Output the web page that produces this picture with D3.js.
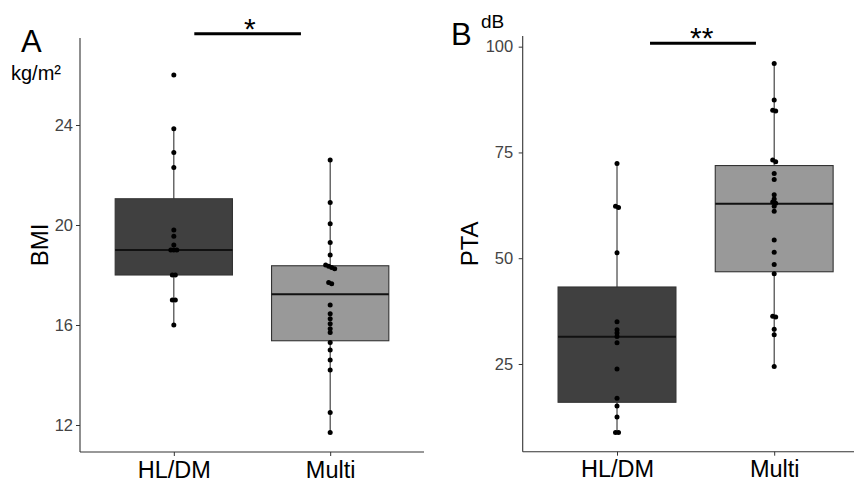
<!DOCTYPE html>
<html>
<head>
<meta charset="utf-8">
<script src="https://cdn.jsdelivr.net/npm/d3@7"></script>
<style>
  body { margin: 0; background: #fff; }
  svg { display: block; font-family: "Liberation Sans", Arial, sans-serif; }
</style>
</head>
<body>
<svg id="chart" width="854" height="482"></svg>
<script>
// groups and tick labels
var groups = ['HL/DM', 'Multi'];
var fills = ['#404040', '#999999'];
var bmiTicks = [12, 16, 20, 24];
var ptaTicks = [25, 50, 75, 100];

var bmiHL = [26.0, 23.85, 22.9, 22.3, 19.8, 19.55, 19.2, 19.0, 19.0, 19.0, 18.0, 18.0, 17.0, 17.0, 16.0];
var bmiMulti = [22.6, 20.9, 20.05, 19.3, 18.8, 18.4, 18.35, 18.3, 18.25, 17.7, 17.65, 16.8, 16.45,
  16.25, 16.05, 15.85, 15.7, 15.3, 15.0, 14.6, 14.2, 12.5, 11.7];
var ptaHL = [72.4, 62.3, 62.0, 51.3, 35.0, 33.1, 32.3, 31.5, 30.0, 23.8, 16.9, 15.1, 12.5, 8.8, 8.8];
var ptaMulti = [96.0, 87.4, 85.0, 84.8, 73.2, 72.8, 70.0, 68.6, 65.0, 64.0, 63.3, 63.0, 62.3, 61.1,
  54.3, 51.4, 48.5, 46.3, 36.3, 36.1, 33.2, 31.9, 24.4];

// box statistics (whisker low, Q1, median, Q3, whisker high) per group
var bmiLow = [16.0, 11.7];
var bmiQ1 = [18.0, 15.37];
var bmiMedian = [19.0, 17.23];
var bmiQ3 = [21.05, 18.37];
var bmiHigh = [23.85, 22.6];

var ptaLow = [8.8, 24.4];
var ptaQ1 = [15.95, 46.8];
var ptaMedian = [31.45, 62.9];
var ptaQ3 = [43.2, 71.9];
var ptaHigh = [72.4, 96.0];

var svg = d3.select('#chart');

function drawPanel(p) {
  var xScale = d3.scalePoint()
    .domain(groups)
    .range([p.left, p.xEnd])
    .padding(0.6);
  var step = xScale.step();
  var boxWidth = step * 0.75;

  var yScale = d3.scaleLinear()
    .domain(p.yDomain)
    .range([p.bottom, p.top]);

  var g = svg.append('g');

  // axes
  var yAxis = g.append('g')
    .attr('transform', `translate(${p.left}, 0)`)
    .call(d3.axisLeft(yScale).tickValues(p.ticks).tickSize(4).tickPadding(p.tickPad).tickSizeOuter(0));
  yAxis.select('.domain').remove();
  yAxis.selectAll('line').attr('stroke', '#333');
  yAxis.selectAll('text')
    .attr('fill', '#444')
    .style('font-size', '16.5px')
    .style('font-family', '"Liberation Sans", Arial, sans-serif');

  var xAxis = g.append('g')
    .attr('transform', `translate(0, ${p.bottom})`)
    .call(d3.axisBottom(xScale).tickSize(4).tickPadding(5).tickSizeOuter(0));
  xAxis.select('.domain').remove();
  xAxis.selectAll('line').attr('stroke', '#333');
  xAxis.selectAll('text')
    .attr('fill', '#000')
    .style('font-size', '23.5px')
    .style('font-family', '"Liberation Sans", Arial, sans-serif');

  g.append('line')
    .attr('x1', p.left).attr('x2', p.left)
    .attr('y1', p.top).attr('y2', p.bottom)
    .attr('stroke', '#333').attr('stroke-width', 1.1);
  g.append('line')
    .attr('x1', p.left).attr('x2', p.xEnd)
    .attr('y1', p.bottom).attr('y2', p.bottom)
    .attr('stroke', '#333').attr('stroke-width', 1.1);

  // boxes
  var boxes = g.selectAll('.box')
    .data(groups)
    .enter()
    .append('g')
    .attr('class', 'box');

  boxes.append('line')
    .attr('x1', (d) => xScale(d)).attr('x2', (d) => xScale(d))
    .attr('y1', (d, i) => yScale(p.low[i]))
    .attr('y2', (d, i) => yScale(p.high[i]))
    .attr('stroke', '#333')
    .attr('stroke-width', 1.1);

  boxes.append('rect')
    .attr('x', (d) => xScale(d) - boxWidth / 2)
    .attr('width', boxWidth)
    .attr('y', (d, i) => yScale(p.q3[i]))
    .attr('height', (d, i) => yScale(p.q1[i]) - yScale(p.q3[i]))
    .attr('fill', (d, i) => fills[i])
    .attr('stroke', '#333')
    .attr('stroke-width', 1.1);

  boxes.append('line')
    .attr('x1', (d) => xScale(d) - boxWidth / 2)
    .attr('x2', (d) => xScale(d) + boxWidth / 2)
    .attr('y1', (d, i) => yScale(p.median[i]))
    .attr('y2', (d, i) => yScale(p.median[i]))
    .attr('stroke', '#111')
    .attr('stroke-width', 2);

  // points, with a small sideways dodge where they overlap
  p.points.forEach(function (vals, i) {
    var sorted = vals.slice().sort((a, b) => b - a);
    var clusters = [];
    sorted.forEach(function (v) {
      var last = clusters[clusters.length - 1];
      if (last && Math.abs(yScale(last[last.length - 1]) - yScale(v)) < 2) last.push(v);
      else clusters.push([v]);
    });
    var dots = [];
    clusters.forEach(function (c) {
      c.forEach(function (v, j) {
        dots.push({ v: v, dx: (j - (c.length - 1) / 2) * 3 });
      });
    });
    g.selectAll(null)
      .data(dots)
      .enter()
      .append('circle')
      .attr('cx', (d) => xScale(groups[i]) + d.dx)
      .attr('cy', (d) => yScale(d.v))
      .attr('r', 2.5)
      .attr('fill', '#000');
  });

  // significance bar
  var x0 = xScale(groups[0]);
  var sy = yScale(p.sigY);
  g.append('line')
    .attr('x1', x0 + p.sigFrom * step)
    .attr('x2', x0 + p.sigTo * step)
    .attr('y1', sy).attr('y2', sy)
    .attr('stroke', '#000')
    .attr('stroke-width', 3);
  g.append('text')
    .attr('x', x0 + p.starAt * step)
    .attr('y', sy + 5)
    .attr('text-anchor', 'middle')
    .style('font-size', '30px')
    .text(p.stars);

  // labels
  g.append('text')
    .attr('transform', `translate(${p.titleX}, ${(p.top + p.bottom) / 2}) rotate(-90)`)
    .attr('text-anchor', 'middle')
    .style('font-size', '24px')
    .text(p.title);

  g.append('text')
    .attr('x', p.letterX).attr('y', p.letterY)
    .style('font-size', '31px')
    .text(p.letter);

  g.append('text')
    .attr('x', p.unitX).attr('y', p.unitY)
    .style('font-size', p.unitSize)
    .text(p.unit);
}

drawPanel({
  left: 80, xEnd: 424, top: 38, bottom: 452,
  yDomain: [10.92, 27.48], ticks: bmiTicks, tickPad: 3,
  low: bmiLow, q1: bmiQ1, median: bmiMedian, q3: bmiQ3, high: bmiHigh,
  points: [bmiHL, bmiMulti],
  sigY: 27.65, sigFrom: 0.131, sigTo: 0.813, starAt: 0.487, stars: '*',
  title: 'BMI', titleX: 48,
  letter: 'A', letterX: 21, letterY: 52,
  unit: 'kg/m²', unitX: 11, unitY: 80, unitSize: '20px'
});

drawPanel({
  left: 522.7, xEnd: 868.5, top: 36, bottom: 451.7,
  yDomain: [4.27, 102.52], ticks: ptaTicks, tickPad: 5.5,
  low: ptaLow, q1: ptaQ1, median: ptaMedian, q3: ptaQ3, high: ptaHigh,
  points: [ptaHL, ptaMulti],
  sigY: 100.8, sigFrom: 0.21, sigTo: 0.884, starAt: 0.539, stars: '**',
  title: 'PTA', titleX: 478,
  letter: 'B', letterX: 451, letterY: 45,
  unit: 'dB', unitX: 481, unitY: 28, unitSize: '19px'
});
</script>
</body>
</html>
